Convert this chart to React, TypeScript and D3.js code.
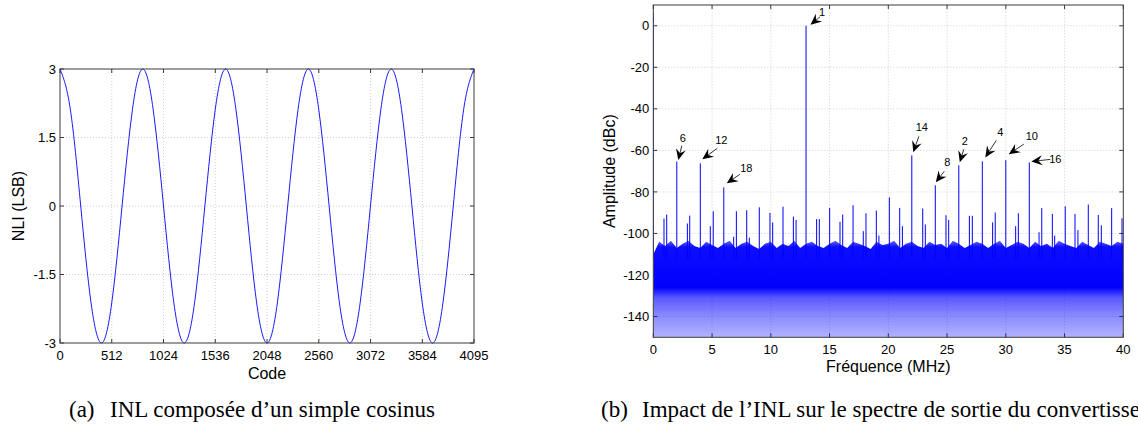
import React from "react";
import * as d3 from "d3";

// ---------- Data: left chart (INL, simple cosine) ----------
const inlCodes = [0, 102, 205, 307, 410, 512, 614, 717, 819, 921, 1024, 1126, 1229, 1331, 1433, 1536, 1638, 1740, 1843, 1945, 2048, 2150, 2252, 2355, 2457, 2559, 2662, 2764, 2867, 2969, 3071, 3174, 3276, 3378, 3481, 3583, 3686, 3788, 3890, 3993, 4095];
const inlValues = [3, 2.12, 0, -2.12, -3, -2.12, 0, 2.12, 3, 2.12, 0, -2.12, -3, -2.12, 0, 2.12, 3, 2.12, 0, -2.12, -3, -2.12, 0, 2.12, 3, 2.12, 0, -2.12, -3, -2.12, 0, 2.12, 3, 2.12, 0, -2.12, -3, -2.12, 0, 2.12, 3];
const inlXTicks = [0, 512, 1024, 1536, 2048, 2560, 3072, 3584, 4095];
const inlYTicks = [-3, -1.5, 0, 1.5, 3];
const inlYTickLabels = ["-3", "-1.5", "0", "1.5", "3"];

// ---------- Data: right chart (output spectrum) ----------
const specXTicks = [0, 5, 10, 15, 20, 25, 30, 35, 40];
const specYTicks = [-140, -120, -100, -80, -60, -40, -20, 0];

const harmonicOrders = [1, 6, 12, 18, 14, 8, 2, 4, 10, 16];
const harmonicFreqs = [13, 2, 4, 6, 22, 24, 26, 28, 30, 32];
const harmonicAmps = [0, -65.4, -66.2, -77.8, -62.4, -76.8, -67.2, -65.3, -64.7, -65.8];

const spurFreqs = [0, 0.91, 1.14, 2.9, 3.1, 4.85, 5.1, 6.84, 7.07, 7.95, 8.17, 9.02, 9.93, 10.16, 11.04, 11.92, 12.15, 13.9, 14.13, 15.01, 15.89, 16.12, 17.0, 17.87, 18.1, 18.98, 19.2, 20.09, 20.97, 21.2, 22.93, 23.15, 24.91, 25.14, 26.9, 27.15, 28.88, 29.1, 30.84, 31.07, 32.83, 33.06, 33.96, 34.16, 35.06, 35.89, 36.14, 37.02, 37.87, 38.13, 39.01, 39.89];
const spurAmps = [6, -92.8, -90.9, -95.2, -91.4, -96.5, -89.3, -101.6, -89.3, -88.8, -102, -87.4, -90.1, -94.7, -87.1, -91.9, -93.5, -93.1, -93.1, -87.7, -94.4, -90.9, -86.4, -98.9, -90.3, -89, -101, -82.6, -87.7, -96.5, -88, -95.7, -91.2, -93.5, -91.5, -91.5, -94.7, -89.9, -96.5, -90.3, -99.4, -87.8, -90.6, -101, -86.9, -90.6, -98.4, -86.1, -91.1, -96.1, -87.8, -92.7];

// Upper edge of the noise floor, read every 0.5 MHz
const noiseFreqs = [0, 0.5, 1, 1.5, 2, 2.5, 3, 3.5, 4, 4.5, 5, 5.5, 6, 6.5, 7, 7.5, 8, 8.5, 9, 9.5, 10, 10.5, 11, 11.5, 12, 12.5, 13, 13.5, 14, 14.5, 15, 15.5, 16, 16.5, 17, 17.5, 18, 18.5, 19, 19.5, 20, 20.5, 21, 21.5, 22, 22.5, 23, 23.5, 24, 24.5, 25, 25.5, 26, 26.5, 27, 27.5, 28, 28.5, 29, 29.5, 30, 30.5, 31, 31.5, 32, 32.5, 33, 33.5, 34, 34.5, 35, 35.5, 36, 36.5, 37, 37.5, 38, 38.5, 39, 39.5, 40];
const noiseTop = [-110, -104, -106, -103.5, -107, -105, -103.5, -106, -107, -104, -105.5, -107, -105, -103.5, -107, -105, -104, -106, -107.5, -105, -104, -107, -105, -106, -103.5, -107, -105, -104, -106, -107, -105, -103.5, -105.5, -107, -104, -105, -106, -107.5, -104, -105.5, -105, -103.5, -107, -105, -104, -106, -107, -104, -105.5, -105, -107, -103.5, -105, -107, -105.5, -104, -105, -107, -105, -103.5, -107, -105.5, -104, -105, -107, -104, -106, -105, -107, -103.5, -105, -106, -107, -104, -105.5, -107, -104, -105, -106, -104, -105];

// Annotation layout (pixel offsets from spur top): label, arrow tip, arrow tail
const labelLayout: Record<number, { lx: number; ly: number; tx: number; ty: number; ax: number; ay: number }> = {
  1: { lx: 16, ly: -14, tx: 4.5, ty: -1, ax: 14, ay: -9 },
  6: { lx: 6, ly: -24, tx: 1.5, ty: -1.5, ax: 5, ay: -16 },
  12: { lx: 21, ly: -23, tx: 2, ty: -4, ax: 17, ay: -15 },
  18: { lx: 22.5, ly: -19, tx: 3, ty: -4, ax: 16, ay: -13 },
  14: { lx: 10, ly: -28, tx: 1.5, ty: -3, ax: 7, ay: -19 },
  8: { lx: 12, ly: -23, tx: 0.5, ty: -3, ax: 9, ay: -14 },
  2: { lx: 6, ly: -24, tx: 1, ty: -3, ax: 5, ay: -16 },
  4: { lx: 18, ly: -29, tx: 3, ty: -4, ax: 14, ay: -21 },
  10: { lx: 26, ly: -24, tx: 3, ty: -6, ax: 18, ay: -16 },
  16: { lx: 26, ly: -3, tx: 2, ty: -1, ax: 21, ay: -3 },
};

const SANS = "'Liberation Sans', Arial, Helvetica, sans-serif";
const SERIF = "'Liberation Serif', 'Times New Roman', serif";
const AXIS = "#3a3a3a";
const GRID = "#c4c4c4";
const BLUE = "#0000ff";

function Frame({ x0, x1, y0, y1, xTicks, yTicks, xs, ys }: any) {
  const tl = 4;
  return (
    <g>
      {xTicks.map((t: number, i: number) => (
        <g key={"xt" + i}>
          {i > 0 && i < xTicks.length - 1 && (
            <line x1={xs(t)} x2={xs(t)} y1={y0} y2={y1} stroke={GRID} strokeWidth={0.8} strokeDasharray="1,2" />
          )}
          <line x1={xs(t)} x2={xs(t)} y1={y0} y2={y0 - tl} stroke={AXIS} strokeWidth={1} />
          <line x1={xs(t)} x2={xs(t)} y1={y1} y2={y1 + tl} stroke={AXIS} strokeWidth={1} />
        </g>
      ))}
      {yTicks.map((t: number, i: number) => (
        <g key={"yt" + i}>
          {ys(t) > y1 + 1 && ys(t) < y0 - 1 && (
            <line x1={x0} x2={x1} y1={ys(t)} y2={ys(t)} stroke={GRID} strokeWidth={0.8} strokeDasharray="1,2" />
          )}
          <line x1={x0} x2={x0 + tl} y1={ys(t)} y2={ys(t)} stroke={AXIS} strokeWidth={1} />
          <line x1={x1} x2={x1 - tl} y1={ys(t)} y2={ys(t)} stroke={AXIS} strokeWidth={1} />
        </g>
      ))}
    </g>
  );
}

function Arrow({ tipX, tipY, tailX, tailY }: any) {
  const dx = tipX - tailX;
  const dy = tipY - tailY;
  const len = Math.hypot(dx, dy) || 1;
  const ux = dx / len;
  const uy = dy / len;
  const px = -uy;
  const py = ux;
  const L = 11;
  const W = 5;
  const bx = tipX - L * ux;
  const by = tipY - L * uy;
  const nx = tipX - 0.65 * L * ux;
  const ny = tipY - 0.65 * L * uy;
  const pts = [
    [tipX, tipY],
    [bx + W * px, by + W * py],
    [nx, ny],
    [bx - W * px, by - W * py],
  ];
  return (
    <g>
      <line x1={tailX} y1={tailY} x2={nx} y2={ny} stroke="#000" strokeWidth={0.8} />
      <polygon points={pts.map((p) => p.join(",")).join(" ")} fill="#000" />
    </g>
  );
}

export default function App() {
  // Left chart
  const L = { x0: 60, x1: 474, y0: 343, y1: 69 };
  const lx = d3.scaleLinear().domain([0, 4095]).range([L.x0, L.x1]);
  const ly = d3.scaleLinear().domain([-3, 3]).range([L.y0, L.y1]);
  const inlLine = d3
    .line<number>()
    .x((_, i) => lx(inlCodes[i]))
    .y((d) => ly(d))
    .curve(d3.curveNatural);

  // Right chart
  const R = { x0: 653.3, x1: 1123.3, y0: 337.3, y1: 5 };
  const rx = d3.scaleLinear().domain([0, 40]).range([R.x0, R.x1]);
  const ry = d3.scaleLinear().domain([-150, 10]).range([R.y0, R.y1]);
  const noiseArea = d3
    .area<number>()
    .x((_, i) => rx(noiseFreqs[i]))
    .y0(ry(-150))
    .y1((d) => ry(d))
    .curve(d3.curveLinear);

  const gradStops = [
    { v: -103, o: 0.55 },
    { v: -106.5, o: 0.95 },
    { v: -126, o: 1 },
    { v: -131, o: 0.65 },
    { v: -140, o: 0.45 },
    { v: -150, o: 0.3 },
  ];

  return (
    <svg
      width={1138}
      height={437}
      viewBox="0 0 1138 437"
      style={{ position: "absolute", left: 0, top: 0, background: "#fff" }}
    >
      <defs>
        <clipPath id="specClip">
          <rect x={R.x0} y={R.y1} width={R.x1 - R.x0} height={R.y0 - R.y1} />
        </clipPath>
        <clipPath id="inlClip">
          <rect x={L.x0} y={L.y1 - 1} width={L.x1 - L.x0} height={L.y0 - L.y1 + 2} />
        </clipPath>
        <linearGradient id="noiseGrad" gradientUnits="userSpaceOnUse" x1={0} x2={0} y1={ry(-103)} y2={ry(-150)}>
          {gradStops.map((s, i) => (
            <stop key={i} offset={(-103 - s.v) / 47} stopColor={BLUE} stopOpacity={s.o} />
          ))}
        </linearGradient>
      </defs>
      <rect x={0} y={0} width={1138} height={437} fill="#fff" />

      {/* ---------------- Left chart ---------------- */}
      <Frame x0={L.x0} x1={L.x1} y0={L.y0} y1={L.y1} xTicks={inlXTicks} yTicks={inlYTicks} xs={lx} ys={ly} />
      <path d={inlLine(inlValues) || ""} fill="none" stroke={BLUE} strokeWidth={0.9} clipPath="url(#inlClip)" />
      <rect x={L.x0} y={L.y1} width={L.x1 - L.x0} height={L.y0 - L.y1} fill="none" stroke={AXIS} strokeWidth={1} />
      {inlXTicks.map((t, i) => (
        <text key={"lxl" + i} x={lx(t)} y={L.y0 + 17} textAnchor="middle" fontFamily={SANS} fontSize={13} fill="#000">
          {t}
        </text>
      ))}
      {inlYTicks.map((t, i) => (
        <text key={"lyl" + i} x={L.x0 - 4} y={ly(t) + 4.6} textAnchor="end" fontFamily={SANS} fontSize={13} fill="#000">
          {inlYTickLabels[i]}
        </text>
      ))}
      <text x={(L.x0 + L.x1) / 2} y={379} textAnchor="middle" fontFamily={SANS} fontSize={16} fill="#000">
        Code
      </text>
      <text
        transform={`translate(24,${(L.y0 + L.y1) / 2}) rotate(-90)`}
        textAnchor="middle"
        fontFamily={SANS}
        fontSize={16}
        fill="#000"
      >
        NLI (LSB)
      </text>

      {/* ---------------- Right chart ---------------- */}
      <Frame x0={R.x0} x1={R.x1} y0={R.y0} y1={R.y1} xTicks={specXTicks} yTicks={specYTicks} xs={rx} ys={ry} />
      <g clipPath="url(#specClip)">
        <path d={noiseArea(noiseTop) || ""} fill="url(#noiseGrad)" />
        {spurFreqs.map((f, i) => (
          <line key={"sp" + i} x1={rx(f)} x2={rx(f)} y1={ry(-112)} y2={ry(spurAmps[i])} stroke={BLUE} strokeWidth={1} />
        ))}
        {harmonicFreqs.map((f, i) => (
          <line key={"hm" + i} x1={rx(f)} x2={rx(f)} y1={ry(-112)} y2={ry(harmonicAmps[i])} stroke={BLUE} strokeWidth={1} />
        ))}
      </g>
      <rect x={R.x0} y={R.y1} width={R.x1 - R.x0} height={R.y0 - R.y1} fill="none" stroke={AXIS} strokeWidth={1} />
      {specXTicks.map((t, i) => (
        <text key={"rxl" + i} x={rx(t)} y={R.y0 + 17} textAnchor="middle" fontFamily={SANS} fontSize={13} fill="#000">
          {t}
        </text>
      ))}
      {specYTicks.map((t, i) => (
        <text key={"ryl" + i} x={R.x0 - 4} y={ry(t) + 4.6} textAnchor="end" fontFamily={SANS} fontSize={13} fill="#000">
          {t}
        </text>
      ))}
      <text x={(R.x0 + R.x1) / 2} y={372} textAnchor="middle" fontFamily={SANS} fontSize={16} fill="#000">
        Fréquence (MHz)
      </text>
      <text
        transform={`translate(615,${(R.y0 + R.y1) / 2}) rotate(-90)`}
        textAnchor="middle"
        fontFamily={SANS}
        fontSize={16}
        fill="#000"
      >
        Amplitude (dBc)
      </text>

      {/* Harmonic annotations */}
      {harmonicOrders.map((o, i) => {
        const sx = rx(harmonicFreqs[i]);
        const sy = ry(harmonicAmps[i]);
        const lay = labelLayout[o];
        return (
          <g key={"an" + o}>
            <Arrow tipX={sx + lay.tx} tipY={sy + lay.ty} tailX={sx + lay.ax} tailY={sy + lay.ay} />
            <text x={sx + lay.lx} y={sy + lay.ly + 4} textAnchor="middle" fontFamily={SANS} fontSize={11} fill="#000">
              {o}
            </text>
          </g>
        );
      })}

      {/* ---------------- Captions ---------------- */}
      <text x={69} y={417} fontFamily={SERIF} fontSize={23} fill="#000">
        (a)
      </text>
      <text x={110} y={417} fontFamily={SERIF} fontSize={23} fill="#000">
        INL composée d’un simple cosinus
      </text>
      <text x={601} y={417} fontFamily={SERIF} fontSize={23} fill="#000">
        (b)
      </text>
      <text x={642} y={417} fontFamily={SERIF} fontSize={23} fill="#000">
        Impact de l’INL sur le spectre de sortie du convertisseur
      </text>
    </svg>
  );
}
